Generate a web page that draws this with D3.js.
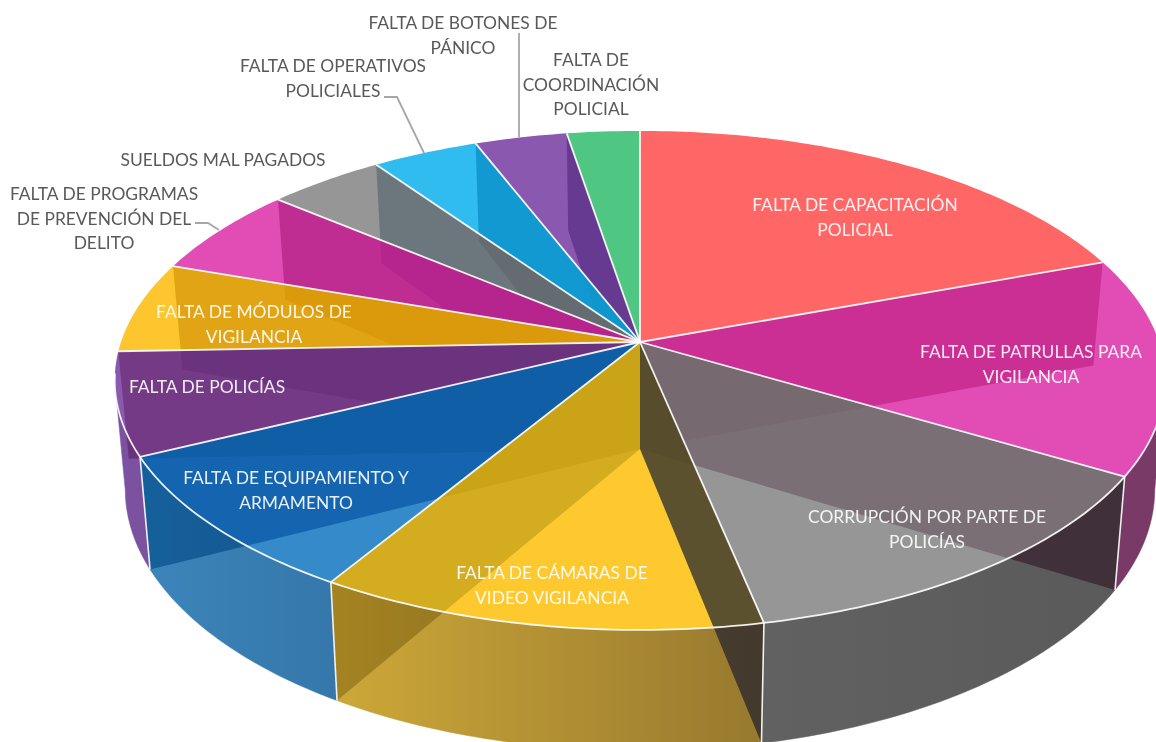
<!DOCTYPE html>
<html><head><meta charset="utf-8">
<script src="https://cdn.jsdelivr.net/npm/d3@7/dist/d3.min.js"></script>
<style>html,body{margin:0;padding:0;background:#fff;overflow:hidden}svg{display:block}</style>
</head><body><svg id="c" width="1156" height="742"></svg>
<script>
// Data (share of each cause, %)
const categories = ["FALTA DE CAPACITACIÓN POLICIAL","FALTA DE PATRULLAS PARA VIGILANCIA","CORRUPCIÓN POR PARTE DE POLICÍAS","FALTA DE CÁMARAS DE VIDEO VIGILANCIA","FALTA DE EQUIPAMIENTO Y ARMAMENTO","FALTA DE POLICÍAS","FALTA DE MÓDULOS DE VIGILANCIA","FALTA DE PROGRAMAS DE PREVENCIÓN DEL DELITO","SUELDOS MAL PAGADOS","FALTA DE OPERATIVOS POLICIALES","FALTA DE BOTONES DE PÁNICO","FALTA DE COORDINACIÓN POLICIAL"];
const values = [19.4,14.1,13.25,11.9,9.1,6.65,5.9,5.8,4.2,3.8,3.3,2.6];
const topColors = ["#ff6666","#e14db5","#969696","#fdc92f","#358ac9","#8a58ae","#fdc62f","#e14db5","#969696","#31bcf0","#8a58ae","#4fc782"];
const sideLeft  = ["#a33","#7a3a68","#616161","#cda838","#3c85bb","#7c52a0","#a80","#a38","#666","#28a","#74a","#3a6"];
const sideRight = ["#a33","#7a3a68","#5a5a5a","#97792f","#3577aa","#7c52a0","#a80","#a38","#666","#28a","#74a","#3a6"];
// label layout: wrapped lines, centre x, first line y, colour kind
const labelLines = [["FALTA DE CAPACITACIÓN","POLICIAL"],["FALTA DE PATRULLAS PARA","VIGILANCIA"],["CORRUPCIÓN POR PARTE DE","POLICÍAS"],["FALTA DE CÁMARAS DE","VIDEO VIGILANCIA"],["FALTA DE EQUIPAMIENTO Y","ARMAMENTO"],["FALTA DE POLICÍAS"],["FALTA DE MÓDULOS DE","VIGILANCIA"],["FALTA DE PROGRAMAS","DE PREVENCIÓN DEL","DELITO"],["SUELDOS MAL PAGADOS"],["FALTA DE OPERATIVOS","POLICIALES"],["FALTA DE BOTONES DE","PÁNICO"],["FALTA DE","COORDINACIÓN","POLICIAL"]];
const labelX = [855,1031,927,552,296,207,254,104,223,333,463,591];
const labelY = [205,352,517,573,478,387,312,194,160,66,23,60];
const labelInside = [1,1,1,1,1,1,1,0,0,0,0,0];
const leaders = [[[195,223],[208,223],[219,230]],[[384,97],[397,97],[424,153]],[[519,33],[519,137]]];
// multiply tints of the radial walls seen through the translucent slices
const wallWeak = [[.96,.95,.94],[.95,.95,.95],[1,1,1],[1,1,1],[.96,.95,.7],[.75,.94,.95],[.92,.85,.94],[.97,.94,.5],[.95,.82,.96],[.93,.91,.9],[.8,.98,.98],[1,1,1]];
const wallTop  = [[.91,.6,.82],[.82,.74,.79],[.36,.4,1],[.84,.86,.68],[.38,.72,.87],[.84,.66,.77],[.89,.83,.43],[.85,.58,.81],[.72,.79,.83],[.35,.81,.87],[.74,.66,.83],[1,1,1]];
const wallSide = [[1,1,1],[.7,.53,.63],[.44,.47,.96],[.8,.78,.6],[.35,.72,.83],[.85,.61,.78],[1,1,1],[1,1,1],[1,1,1],[1,1,1],[1,1,1],[1,1,1]];
const wallPrimary = [1,2,3,3,4,5,6,7,8,9,10,0];
const wallNeighbour = [2,3,null,null,3,4,5,6,7,8,9,null];

const cx=640, cy=342, A=519, K=243.6, P=.154, DEPTH=107, SHRINK=.98, TAU=Math.PI*2;
const svg=d3.select("#c");
const defs=svg.append("defs");
const arcs=d3.pie().sort(null).value(d=>d)(values);
const persp=a=>1/(1+P*Math.cos(a));
const rim=a=>[cx+A*Math.sin(a)*persp(a), cy-K*Math.cos(a)*persp(a)];
const base=a=>{const [x,y]=rim(a);return [cx+(x-cx)*SHRINK, cy+(y-cy)*SHRINK+DEPTH*persp(a)];};
const line=d3.line();
const sample=(a,b)=>{const n=Math.max(2,Math.ceil(Math.abs(b-a)*60));return d3.range(n+1).map(i=>a+(b-a)*i/n);};
const rgb=t=>`rgb(${t.map(v=>Math.round(Math.min(1,v)*255)).join(",")})`;
const sideFrom=99*Math.PI/180, sideTo=261*Math.PI/180;
const topPoly=d=>[[cx,cy],...sample(d.startAngle,d.endAngle).map(rim)];
const sidePoly=d=>{const a=Math.max(d.startAngle,sideFrom),b=Math.min(d.endAngle,sideTo);
  if(b<=a) return null; const s=sample(a,b); return [...s.map(rim),...s.slice().reverse().map(base)];};

// gradients and clips
arcs.forEach((d,i)=>{
  const g=defs.append("linearGradient").attr("id","sg"+i).attr("gradientUnits","userSpaceOnUse");
  const sp=sidePoly(d)||[[0,0],[1,0]];
  const xs=d3.extent(sp,p=>p[0]);
  g.attr("x1",xs[0]).attr("x2",xs[1]).attr("y1",0).attr("y2",0);
  g.append("stop").attr("offset",0).attr("stop-color",sideLeft[i]);
  g.append("stop").attr("offset",1).attr("stop-color",sideRight[i]);
  defs.append("clipPath").attr("id","ct"+i).append("path").attr("d",line(topPoly(d))+"Z");
  if(sidePoly(d)) defs.append("clipPath").attr("id","cs"+i).append("path").attr("d",line(sp)+"Z");
});

const sides=svg.append("g");
arcs.forEach((d,i)=>{const sp=sidePoly(d); if(sp) sides.append("path").attr("d",line(sp)+"Z").attr("fill",`url(#sg${i})`).attr("stroke",`url(#sg${i})`).attr("stroke-width",.5);});
const tops=svg.append("g");
tops.selectAll("path").data(arcs).join("path").attr("d",d=>line(topPoly(d))+"Z").attr("fill",(d,i)=>topColors[i]);

// radial walls
const walls=svg.append("g");
arcs.forEach((d,i)=>{
  const a=d.endAngle%TAU;
  const quad=line([[cx,cy],rim(a),base(a),[cx,cy+DEPTH]])+"Z";
  const p=wallPrimary[i], n=wallNeighbour[i];
  if(n!==null) walls.append("path").attr("d",quad).attr("fill",rgb(wallWeak[i])).attr("clip-path",`url(#ct${n})`).style("mix-blend-mode","multiply");
  walls.append("path").attr("d",quad).attr("fill",rgb(wallTop[i])).attr("clip-path",`url(#ct${p})`).style("mix-blend-mode","multiply");
  if(sidePoly(arcs[p])) walls.append("path").attr("d",quad).attr("fill",rgb(wallSide[i])).attr("clip-path",`url(#cs${p})`).style("mix-blend-mode","multiply");
});

// white edges
const edges=svg.append("g").attr("fill","none").attr("stroke","#fff").attr("stroke-opacity",.9);
arcs.forEach(d=>{
  const a=d.endAngle%TAU;
  edges.append("path").attr("d",line([[cx,cy],rim(a)])).attr("stroke-width",1.8);
  if(a>sideFrom&&a<sideTo) edges.append("path").attr("d",line([rim(a),base(a)])).attr("stroke-width",1.6);
});
edges.append("path").attr("d",line(sample(sideFrom-.12,sideTo+.03).map(rim))).attr("stroke-width",1.8);

// leaders
svg.append("g").selectAll("path").data(leaders).join("path").attr("d",d=>line(d)).attr("fill","none").attr("stroke","#a6a6a6").attr("stroke-width",1.8);

// labels
const LH=24.6;
const lab=svg.append("g").attr("font-family","Lato, 'Open Sans', sans-serif").attr("font-size",17.4).attr("text-anchor","middle");
labelLines.forEach((ls,i)=>{
  ls.forEach((t,j)=>lab.append("text").attr("x",labelX[i]).attr("y",labelY[i]+j*LH).attr("dy","0.36em").attr("fill",labelInside[i]?"#fff":"#595959").attr("fill-opacity",labelInside[i]?.9:1).text(t));
});
</script></body></html>
